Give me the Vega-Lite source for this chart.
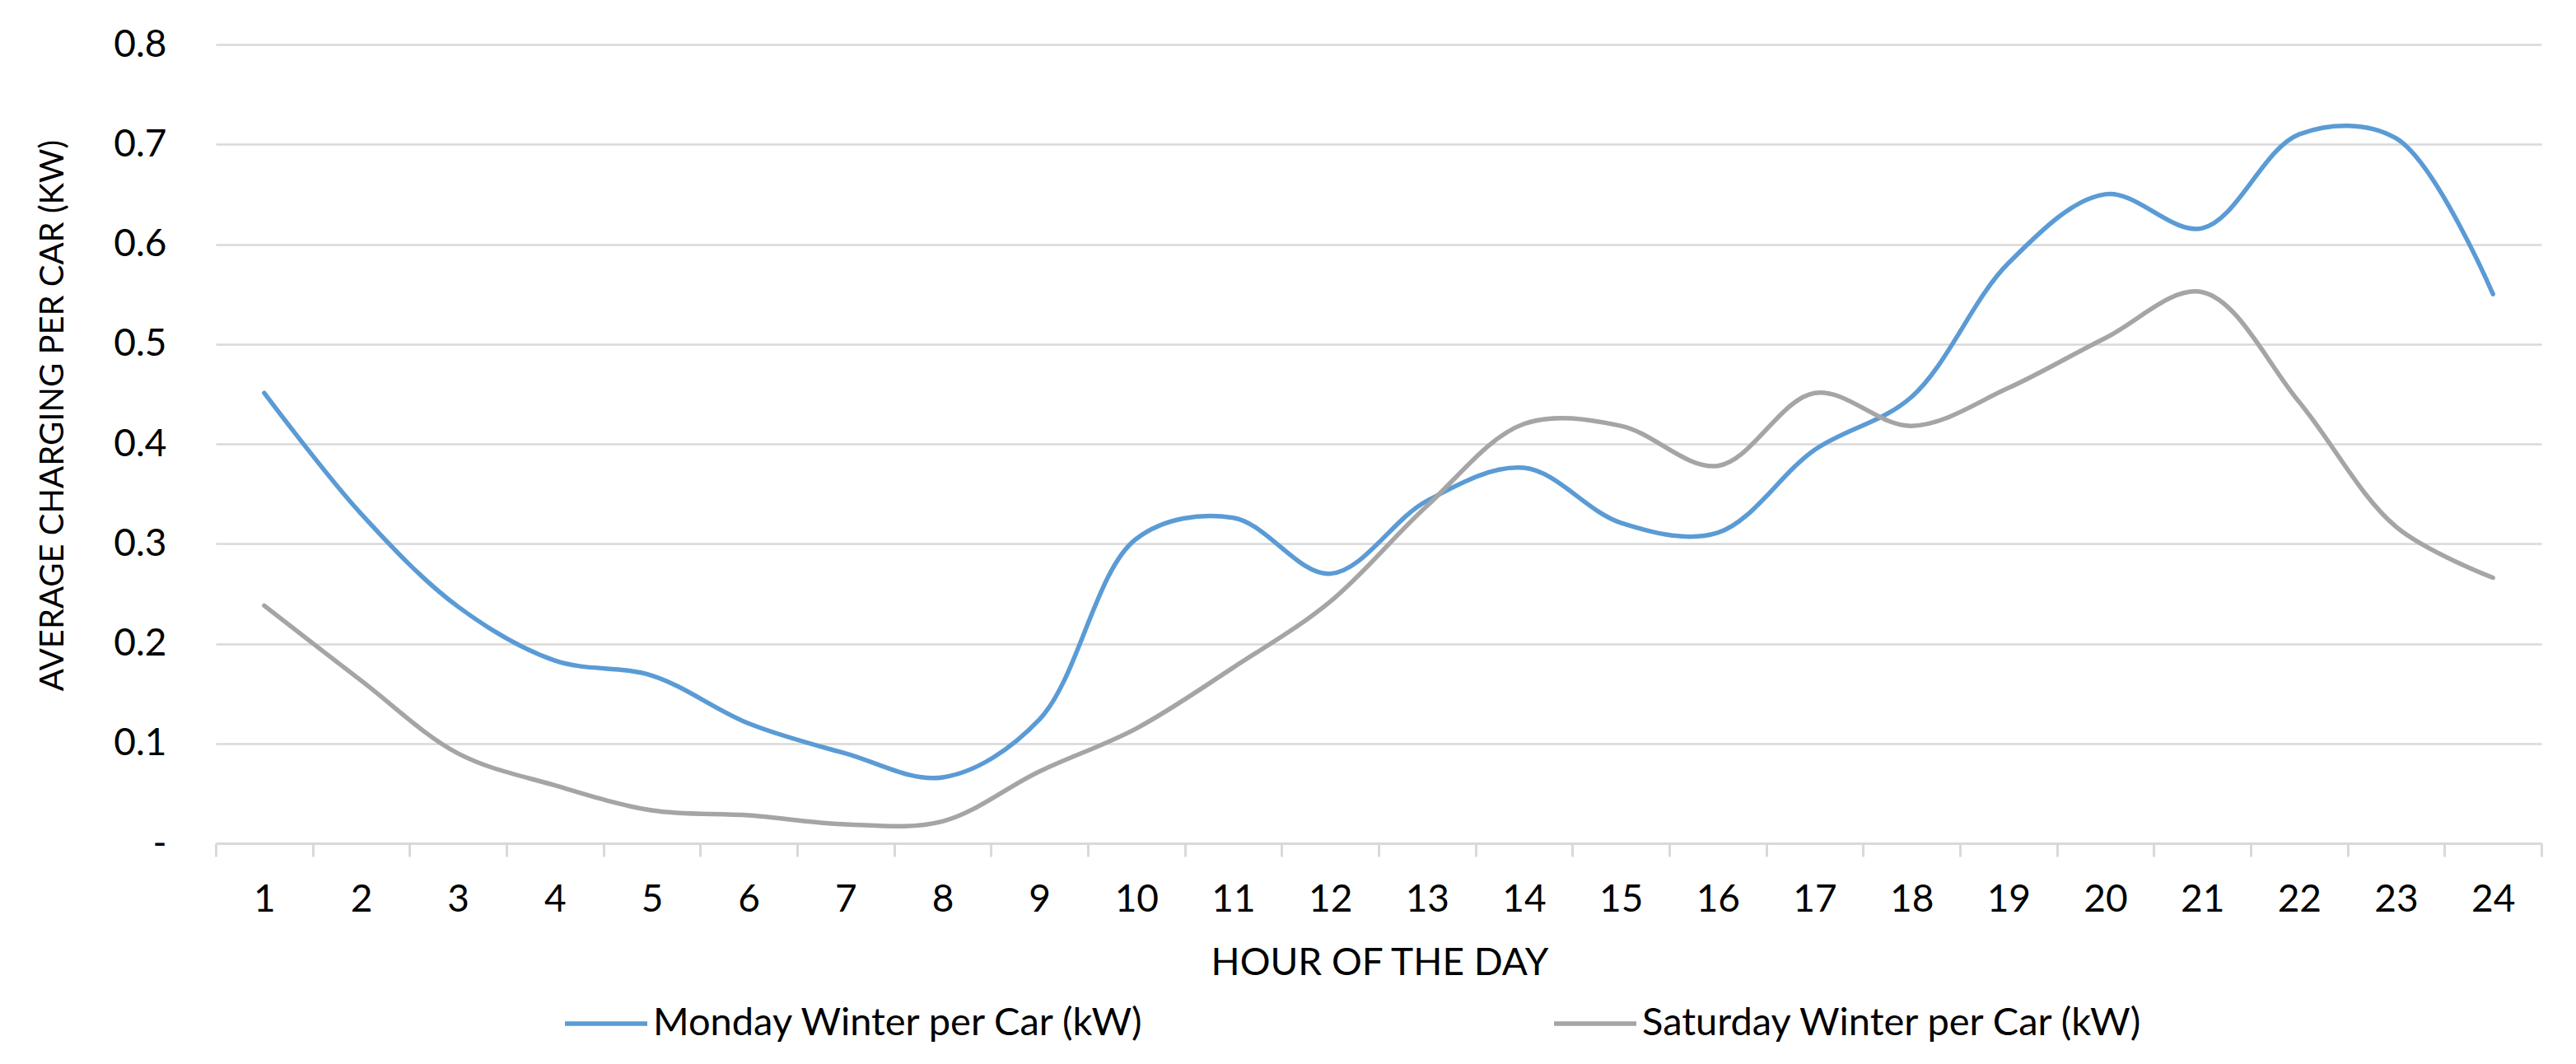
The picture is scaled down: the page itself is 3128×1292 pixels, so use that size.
{
  "$schema": "https://vega.github.io/schema/vega-lite/v6.json",
  "width": 2824,
  "height": 970,
  "autosize": {"type": "none"},
  "padding": {"left": 262, "top": 54, "right": 42, "bottom": 268},
  "config": {
    "view": {"stroke": null},
    "font": "Lato",
    "axis": {"labelFont": "Lato", "titleFont": "Lato", "labelColor": "#000000", "titleColor": "#000000", "titleFontWeight": "normal"},
    "legend": {"labelFont": "Lato", "labelColor": "#000000"}
  },
  "data": {
    "values": [
      {"hour": 1, "series": "Monday Winter per Car (kW)", "value": 0.451},
      {"hour": 2, "series": "Monday Winter per Car (kW)", "value": 0.330},
      {"hour": 3, "series": "Monday Winter per Car (kW)", "value": 0.237},
      {"hour": 4, "series": "Monday Winter per Car (kW)", "value": 0.183},
      {"hour": 5, "series": "Monday Winter per Car (kW)", "value": 0.168},
      {"hour": 6, "series": "Monday Winter per Car (kW)", "value": 0.120},
      {"hour": 7, "series": "Monday Winter per Car (kW)", "value": 0.090},
      {"hour": 8, "series": "Monday Winter per Car (kW)", "value": 0.066},
      {"hour": 9, "series": "Monday Winter per Car (kW)", "value": 0.124},
      {"hour": 10, "series": "Monday Winter per Car (kW)", "value": 0.305},
      {"hour": 11, "series": "Monday Winter per Car (kW)", "value": 0.326},
      {"hour": 12, "series": "Monday Winter per Car (kW)", "value": 0.270},
      {"hour": 13, "series": "Monday Winter per Car (kW)", "value": 0.343},
      {"hour": 14, "series": "Monday Winter per Car (kW)", "value": 0.376},
      {"hour": 15, "series": "Monday Winter per Car (kW)", "value": 0.321},
      {"hour": 16, "series": "Monday Winter per Car (kW)", "value": 0.311},
      {"hour": 17, "series": "Monday Winter per Car (kW)", "value": 0.394},
      {"hour": 18, "series": "Monday Winter per Car (kW)", "value": 0.447},
      {"hour": 19, "series": "Monday Winter per Car (kW)", "value": 0.581},
      {"hour": 20, "series": "Monday Winter per Car (kW)", "value": 0.650},
      {"hour": 21, "series": "Monday Winter per Car (kW)", "value": 0.616},
      {"hour": 22, "series": "Monday Winter per Car (kW)", "value": 0.710},
      {"hour": 23, "series": "Monday Winter per Car (kW)", "value": 0.706},
      {"hour": 24, "series": "Monday Winter per Car (kW)", "value": 0.550},
      {"hour": 1, "series": "Saturday Winter per Car (kW)", "value": 0.238},
      {"hour": 2, "series": "Saturday Winter per Car (kW)", "value": 0.163},
      {"hour": 3, "series": "Saturday Winter per Car (kW)", "value": 0.090},
      {"hour": 4, "series": "Saturday Winter per Car (kW)", "value": 0.058},
      {"hour": 5, "series": "Saturday Winter per Car (kW)", "value": 0.033},
      {"hour": 6, "series": "Saturday Winter per Car (kW)", "value": 0.028},
      {"hour": 7, "series": "Saturday Winter per Car (kW)", "value": 0.019},
      {"hour": 8, "series": "Saturday Winter per Car (kW)", "value": 0.022},
      {"hour": 9, "series": "Saturday Winter per Car (kW)", "value": 0.072},
      {"hour": 10, "series": "Saturday Winter per Car (kW)", "value": 0.115},
      {"hour": 11, "series": "Saturday Winter per Car (kW)", "value": 0.176},
      {"hour": 12, "series": "Saturday Winter per Car (kW)", "value": 0.242},
      {"hour": 13, "series": "Saturday Winter per Car (kW)", "value": 0.338},
      {"hour": 14, "series": "Saturday Winter per Car (kW)", "value": 0.420},
      {"hour": 15, "series": "Saturday Winter per Car (kW)", "value": 0.418},
      {"hour": 16, "series": "Saturday Winter per Car (kW)", "value": 0.378},
      {"hour": 17, "series": "Saturday Winter per Car (kW)", "value": 0.451},
      {"hour": 18, "series": "Saturday Winter per Car (kW)", "value": 0.418},
      {"hour": 19, "series": "Saturday Winter per Car (kW)", "value": 0.456},
      {"hour": 20, "series": "Saturday Winter per Car (kW)", "value": 0.506},
      {"hour": 21, "series": "Saturday Winter per Car (kW)", "value": 0.552},
      {"hour": 22, "series": "Saturday Winter per Car (kW)", "value": 0.442},
      {"hour": 23, "series": "Saturday Winter per Car (kW)", "value": 0.317},
      {"hour": 24, "series": "Saturday Winter per Car (kW)", "value": 0.266}
    ]
  },
  "mark": {"type": "line", "interpolate": "catmull-rom", "strokeWidth": 5.5, "strokeCap": "round", "strokeJoin": "round"},
  "encoding": {
    "x": {
      "field": "hour",
      "type": "ordinal",
      "bandPosition": 0.5,
      "scale": {"type": "band", "paddingInner": 0, "paddingOuter": 0},
      "axis": {
        "title": "HOUR OF THE DAY",
        "titleFontSize": 46,
        "titleX": 1413,
        "titleY": 159,
        "titleAlign": "center",
        "titleBaseline": "alphabetic",
        "labelAngle": 0,
        "labelFontSize": 46,
        "labelBaseline": "alphabetic",
        "labelPadding": 66,
        "tickBand": "extent",
        "ticks": true,
        "tickSize": 16,
        "tickWidth": 3,
        "tickColor": "#D9D9D9",
        "domain": true,
        "domainColor": "#D9D9D9",
        "domainWidth": 3,
        "grid": false
      }
    },
    "y": {
      "field": "value",
      "type": "quantitative",
      "scale": {"domain": [0, 0.8], "nice": false, "zero": true},
      "axis": {
        "title": "AVERAGE CHARGING PER CAR (KW)",
        "titleFontSize": 40,
        "titleAngle": -90,
        "titleX": -186,
        "titleY": 450,
        "titleAlign": "center",
        "titleBaseline": "alphabetic",
        "values": [0, 0.1, 0.2, 0.3, 0.4, 0.5, 0.6, 0.7, 0.8],
        "labelExpr": "datum.value == 0 ? '-\u00a0\u00a0\u00a0' : format(datum.value, '.1f')",
        "labelFontSize": 46,
        "labelPadding": 60,
        "ticks": false,
        "tickSize": 0,
        "domain": false,
        "grid": true,
        "gridColor": "#D9D9D9",
        "gridWidth": 2.7
      }
    },
    "color": {
      "field": "series",
      "type": "nominal",
      "scale": {
        "domain": ["Monday Winter per Car (kW)", "Saturday Winter per Car (kW)"],
        "range": ["#5B9BD5", "#A5A5A5"]
      },
      "legend": {
        "title": null,
        "orient": "none",
        "legendX": 421,
        "legendY": 1136,
        "direction": "horizontal",
        "columns": 2,
        "gridAlign": "all",
        "columnPadding": 472,
        "padding": 0,
        "symbolType": "stroke",
        "symbolSize": 10000,
        "symbolStrokeWidth": 5.5,
        "labelFontSize": 47,
        "labelOffset": 4,
        "labelLimit": 0
      }
    }
  }
}
